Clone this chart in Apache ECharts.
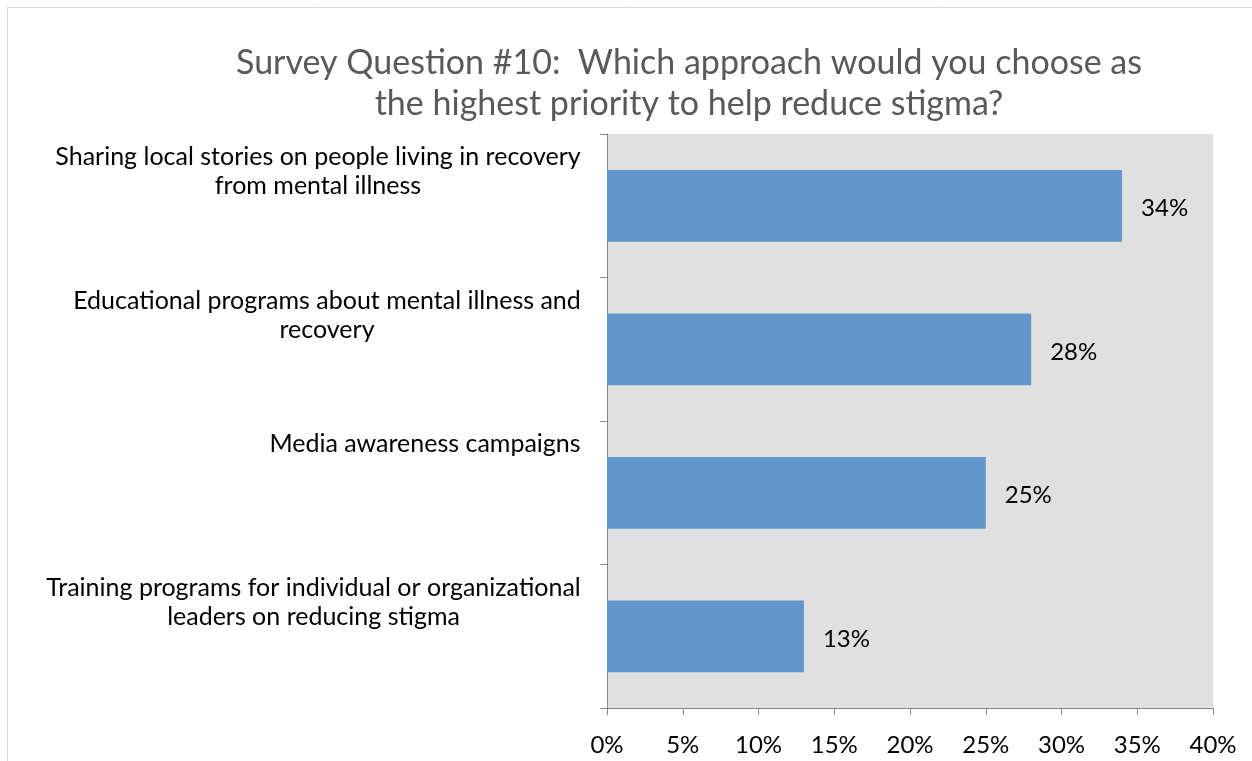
<!DOCTYPE html>
<html>
<head>
<meta charset="utf-8">
<script src="https://cdn.jsdelivr.net/npm/echarts@6/dist/echarts.min.js"></script>
<style>
  html, body { margin: 0; padding: 0; background: #ffffff; }
  #chart { width: 1252px; height: 761px; }
</style>
</head>
<body>
<div id="chart"></div>
<script>
// Survey answers, listed top to bottom
const categories = [
  'Sharing local stories on people living in recovery\nfrom mental illness',
  'Educational programs about mental illness and\nrecovery',
  'Media awareness campaigns',
  'Training programs for individual or organizational\nleaders on reducing stigma'
];
const percentages = [34, 28, 25, 13];
const xTicks = { min: 0, max: 40, step: 5 };

const FONT = 'Lato';
const CAT_SIZE = 25;
const TEXT_SIZE = 24;
const LINE_H = 29;
const BLOCK_LINES = 5;

// Each category label is a right-aligned block whose lines are centred within it
const measureCtx = document.createElement('canvas').getContext('2d');
measureCtx.font = CAT_SIZE + 'px ' + FONT;
const rich = {};
categories.forEach((c, i) => {
  const w = Math.max(...c.split('\n').map(l => measureCtx.measureText(l).width));
  rich['c' + i] = {
    width: Math.ceil(w) + 2, align: 'center',
    fontFamily: FONT, fontSize: CAT_SIZE, lineHeight: LINE_H, color: '#000000'
  };
});

const chart = echarts.init(document.getElementById('chart'), null, { renderer: 'canvas' });

chart.setOption({
  animation: false,
  backgroundColor: '#ffffff',
  title: {
    text: 'Survey Question #10:  Which approach would you choose as\nthe highest priority to help reduce stigma?',
    left: 684, top: 38, textAlign: 'center',
    textStyle: { fontFamily: FONT, fontSize: 34, fontWeight: 'normal', color: '#595959', lineHeight: 41 }
  },
  graphic: [{
    type: 'rect', z: -10,
    shape: { x: 7.5, y: 7.5, width: 1400, height: 900 },
    style: { fill: 'none', stroke: '#d9d9d9', lineWidth: 1 }
  }],
  grid: {
    left: 607, right: 39, top: 134, bottom: 53,
    show: true, backgroundColor: '#e0e0e0', borderWidth: 0
  },
  xAxis: {
    type: 'value', min: xTicks.min, max: xTicks.max, interval: xTicks.step,
    axisLine: { show: true, lineStyle: { color: '#868686', width: 1 } },
    axisTick: { show: true, length: 7, lineStyle: { color: '#868686' } },
    splitLine: { show: false },
    axisLabel: {
      formatter: '{value}%', margin: 25,
      fontFamily: FONT, fontSize: TEXT_SIZE, color: '#000000'
    }
  },
  yAxis: {
    type: 'category', inverse: true, data: categories,
    axisLine: { show: true, lineStyle: { color: '#868686', width: 1 } },
    axisTick: { show: true, length: 7, lineStyle: { color: '#868686' } },
    axisLabel: {
      interval: 0, hideOverlap: false,
      margin: 25, align: 'right', verticalAlign: 'middle', lineHeight: LINE_H,
      padding: [19, 0, 0, 0],
      formatter: (val, idx) => {
        const lines = val.split('\n').map(l => '{c' + idx + '|' + l + '}');
        while (lines.length < BLOCK_LINES) lines.push('{c' + idx + '| }');
        return lines.join('\n');
      },
      rich: rich
    }
  },
  series: [{
    type: 'bar', data: percentages, barWidth: '50%',
    itemStyle: { color: '#6197cb' },
    label: {
      show: true, position: 'right', distance: 19, offset: [0, 3], formatter: '{c}%',
      fontFamily: FONT, fontSize: TEXT_SIZE, color: '#000000'
    }
  }]
});
</script>
</body>
</html>
